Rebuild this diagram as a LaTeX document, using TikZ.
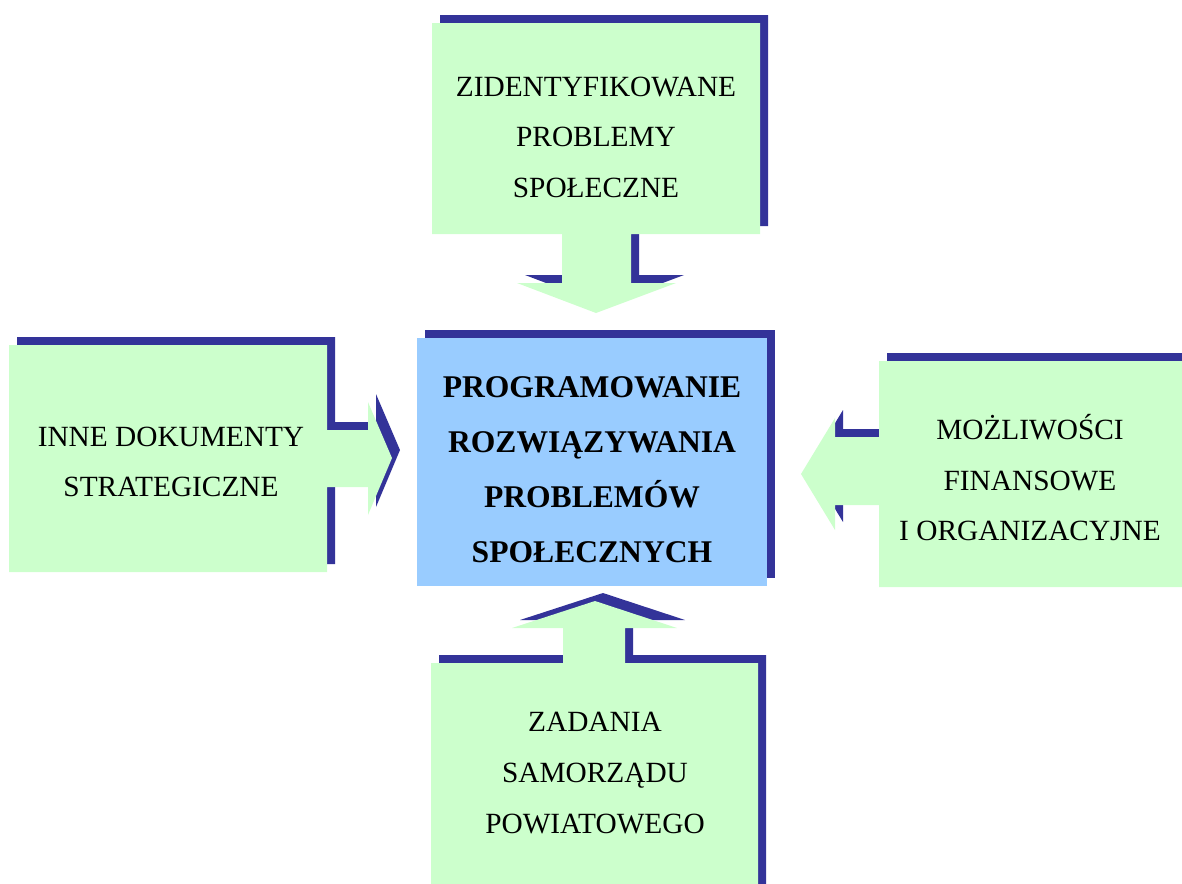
\documentclass[tikz,border=0pt]{standalone}
\usepackage{fontspec}
\setmainfont{Liberation Serif}
\definecolor{mygreen}{HTML}{CCFFCC}
\definecolor{myblue}{HTML}{99CCFF}
\definecolor{myshadow}{HTML}{333399}
\newcommand\callout[2]{
  % shadow sits up and to the right of the shape
  \fill[myshadow, shift={(8,-8)}] #2;
  \fill[#1] #2;
}

\begin{document}
\begin{tikzpicture}[
    x=0.75pt, y=-0.75pt,
    boxtext/.style={align=center, inner sep=0pt, text=black,
                    font=\fontsize{22}{37.9}\selectfont},
    maintext/.style={boxtext, font=\bfseries\fontsize{23.7}{41.2}\selectfont},
  ]
  \useasboundingbox (0,0) rectangle (1182,883);

  \begin{scope}
    \clip (0,0) rectangle (1182,883);
    % ------------------------------------------------------------------ top: arrow down
    \callout{mygreen}{(432,23) -- (760,23) -- (760,234) -- (631,234) -- (631,283)
      -- (676,283) -- (596,313) -- (517,283) -- (562,283) -- (562,234) -- (432,234) -- cycle}
    % ------------------------------------------------------------------ left: arrow right
    \callout{mygreen}{(9,345) -- (327,345) -- (327,430) -- (368,430) -- (368,402)
      -- (392,458) -- (368,515) -- (368,487) -- (327,487) -- (327,572) -- (9,572) -- cycle}
    % ------------------------------------------------------------------ right: arrow left
    \callout{mygreen}{(879,361) -- (1190,361) -- (1190,587) -- (879,587) -- (879,505)
      -- (835,505) -- (835,530) -- (801,474) -- (835,418) -- (835,437) -- (879,437) -- cycle}
    % ------------------------------------------------------------------ bottom: arrow up
    \callout{mygreen}{(431,663) -- (563,663) -- (563,628) -- (512,628) -- (595,601)
      -- (677,628) -- (625,628) -- (625,663) -- (758,663) -- (758,900) -- (431,900) -- cycle}
    % ------------------------------------------------------------------ centre
    \callout{myblue}{(417,338) rectangle (767,586)}
  \end{scope}

  \node[boxtext] (problemy) at (596,137) {ZIDENTYFIKOWANE\\PROBLEMY\\SPOŁECZNE};
  \node[boxtext] (dokumenty) at (171,462) {INNE DOKUMENTY\\STRATEGICZNE};
  \node[boxtext] (mozliwosci) at (1030,478) {MOŻLIWOŚCI\\FINANSOWE\\I ORGANIZACYJNE};
  \node[boxtext] (zadania) at (595,773) {ZADANIA\\SAMORZĄDU\\POWIATOWEGO};
  \node[maintext] (program) at (592,470)
    {PROGRAMOWANIE\\ROZWIĄZYWANIA\\PROBLEMÓW\\SPOŁECZNYCH};

\end{tikzpicture}
\end{document}
